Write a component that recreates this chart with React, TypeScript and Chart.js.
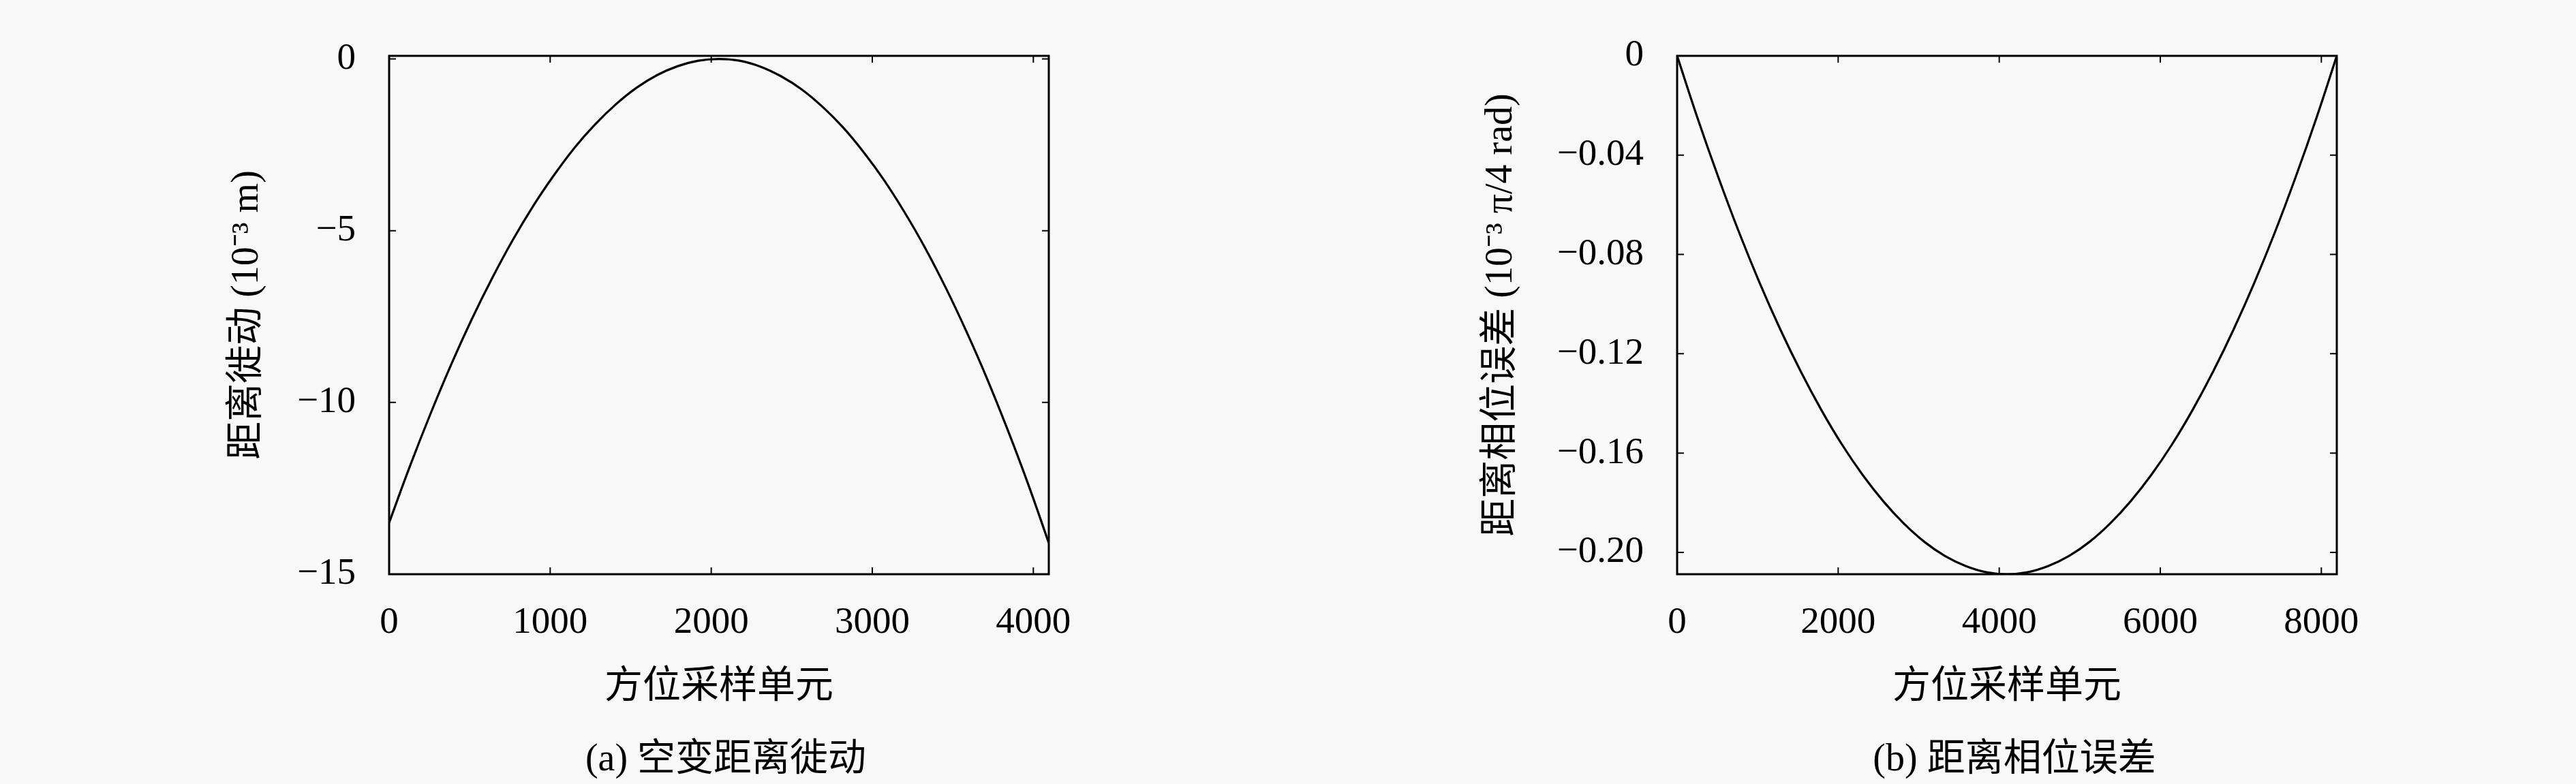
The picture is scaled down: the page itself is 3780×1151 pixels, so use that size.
import React, { useEffect, useRef } from "react";
import { Chart, registerables } from "chart.js";

Chart.register(...registerables);

// ---- Data ----
const xA = [
  0, 128, 256, 384, 512, 640, 768, 896, 1024, 1152, 1280, 1408, 1536, 1664, 1792, 1920, 2048,
  2176, 2304, 2432, 2560, 2688, 2816, 2944, 3072, 3200, 3328, 3456, 3584, 3712, 3840, 3968, 4096,
];
const yA = [
  -13.5, -11.87, -10.34, -8.91, -7.59, -6.38, -5.27, -4.27, -3.38, -2.58, -1.9, -1.32, -0.84, -0.47, -0.21, -0.05, 0.0,
  -0.05, -0.22, -0.5, -0.88, -1.38, -1.98, -2.7, -3.52, -4.46, -5.5, -6.66, -7.93, -9.3, -10.79, -12.38, -14.09,
];

const xB = [
  0, 256, 512, 768, 1024, 1280, 1536, 1792, 2048, 2304, 2560, 2816, 3072, 3328, 3584, 3840, 4096,
  4352, 4608, 4864, 5120, 5376, 5632, 5888, 6144, 6400, 6656, 6912, 7168, 7424, 7680, 7936, 8192,
];
const yB = [
  0, -0.0253, -0.0489, -0.071, -0.0914, -0.1101, -0.1272, -0.1427, -0.1566, -0.1688, -0.1794, -0.1884, -0.1958, -0.2015, -0.2055, -0.208, -0.2088,
  -0.208, -0.2055, -0.2015, -0.1958, -0.1884, -0.1794, -0.1688, -0.1566, -0.1427, -0.1272, -0.1101, -0.0914, -0.071, -0.0489, -0.0253, 0,
];

const xTicksA = [0, 1000, 2000, 3000, 4000];
const yTicksA = [-15, -10, -5, 0];
const xTicksB = [0, 2000, 4000, 6000, 8000];
const yTicksB = [-0.2, -0.16, -0.12, -0.08, -0.04, 0];

const xTitle = "方位采样单元";
const yTitleA = "距离徙动 (10⁻³ m)";
const yTitleB = "距离相位误差 (10⁻³ π/4 rad)";
const captionA = "(a) 空变距离徙动";
const captionB = "(b) 距离相位误差";

const FONT = '"Liberation Serif", "Noto Sans CJK SC", serif';
const W = 1890;
const H = 1151;
const PLOT_LEFT = 571;
const PLOT_RIGHT = 1539;
const PLOT_TOP = 37;
const PLOT_BOTTOM = 843;
const FS = 55;

const frameTicks = {
  id: "frameTicks",
  afterDatasetsDraw(chart: any) {
    const { ctx, chartArea } = chart;
    const { left, top, right, bottom } = chartArea;
    const xs = chart.scales.x;
    const ys = chart.scales.y;
    const L = 10;
    ctx.save();
    ctx.strokeStyle = "#000";
    ctx.lineWidth = 2;
    ctx.beginPath();
    xs.ticks.forEach((t: any) => {
      const p = xs.getPixelForValue(t.value);
      ctx.moveTo(p, bottom);
      ctx.lineTo(p, bottom - L);
      ctx.moveTo(p, top);
      ctx.lineTo(p, top + L);
    });
    ys.ticks.forEach((t: any) => {
      const p = ys.getPixelForValue(t.value);
      ctx.moveTo(left, p);
      ctx.lineTo(left + L, p);
      ctx.moveTo(right, p);
      ctx.lineTo(right - L, p);
    });
    ctx.stroke();
    ctx.lineWidth = 3;
    ctx.strokeRect(left, top, right - left, bottom - top);
    ctx.restore();
  },
};

type PanelProps = {
  xs: number[];
  ys: number[];
  xTicks: number[];
  yTicks: number[];
  xMax: number;
  yMin: number;
  yMax: number;
  yDigits: number;
  yTitle: string;
  yTitlePad: number;
  left: number;
  caption: string;
  captionCenter: number;
};

function fmtNeg(v: number, digits: number) {
  if (Math.abs(v) < 1e-9) return "0";
  const s = Math.abs(v).toFixed(digits);
  return v < 0 ? "\u2212" + s : s;
}

function Panel(p: PanelProps) {
  const ref = useRef<HTMLCanvasElement | null>(null);
  useEffect(() => {
    if (!ref.current) return;
    const chart = new Chart(ref.current, {
      type: "line",
      data: {
        datasets: [
          {
            data: p.xs.map((x, i) => ({ x, y: p.ys[i] })),
            borderColor: "#000",
            borderWidth: 3.2,
            pointRadius: 0,
            tension: 0.4,
            fill: false,
          },
        ],
      },
      options: {
        animation: false,
        responsive: false,
        devicePixelRatio: 1,
        layout: { padding: { top: PLOT_TOP, right: W - PLOT_RIGHT, bottom: 0, left: 0 } },
        plugins: { legend: { display: false }, tooltip: { enabled: false } },
        scales: {
          x: {
            type: "linear",
            min: 0,
            max: p.xMax,
            grid: { display: false, drawTicks: false },
            border: { display: false },
            afterBuildTicks: (s: any) => {
              s.ticks = p.xTicks.map((v) => ({ value: v }));
            },
            ticks: {
              padding: 39,
              color: "#000",
              font: { family: FONT, size: FS },
              maxRotation: 0,
              autoSkip: false,
              callback: (v: any) => String(v),
            },
            title: {
              display: true,
              text: xTitle,
              color: "#000",
              font: { family: FONT, size: 56 },
              padding: { top: 0, bottom: 108 },
            },
            afterFit: (s: any) => {
              s.height = H - PLOT_BOTTOM;
            },
          },
          y: {
            type: "linear",
            min: p.yMin,
            max: p.yMax,
            grid: { display: false, drawTicks: false },
            border: { display: false },
            afterBuildTicks: (s: any) => {
              s.ticks = p.yTicks.map((v) => ({ value: v }));
            },
            ticks: {
              padding: 49,
              color: "#000",
              font: { family: FONT, size: FS },
              autoSkip: false,
              callback: (v: any) => fmtNeg(Number(v), p.yDigits),
            },
            title: {
              display: true,
              text: p.yTitle,
              color: "#000",
              font: { family: FONT, size: 56 },
              padding: { top: p.yTitlePad, bottom: 0 },
            },
            afterFit: (s: any) => {
              s.width = PLOT_LEFT;
            },
          },
        },
      } as any,
      plugins: [frameTicks],
    });
    return () => chart.destroy();
  }, []);

  return (
    <div style={{ position: "absolute", left: p.left, top: 0, width: W, height: H }}>
      <canvas ref={ref} width={W} height={H} style={{ width: W, height: H, display: "block" }} />
      <div
        style={{
          position: "absolute",
          left: p.captionCenter - 500,
          width: 1000,
          top: 1078,
          height: 68,
          lineHeight: "68px",
          textAlign: "center",
          fontFamily: FONT,
          fontSize: 56,
          color: "#000",
          whiteSpace: "nowrap",
        }}
      >
        {p.caption}
      </div>
    </div>
  );
}

export default function App() {
  return (
    <div
      style={{
        position: "fixed",
        left: 0,
        top: 0,
        width: 3780,
        height: 1151,
        background: "#f8f8f8",
        overflow: "hidden",
      }}
    >
      <Panel
        xs={xA}
        ys={yA}
        xTicks={xTicksA}
        yTicks={yTicksA}
        xMax={4096}
        yMin={-15}
        yMax={0.09}
        yDigits={0}
        yTitle={yTitleA}
        yTitlePad={330}
        left={0}
        caption={captionA}
        captionCenter={1065}
      />
      <Panel
        xs={xB}
        ys={yB}
        xTicks={xTicksB}
        yTicks={yTicksB}
        xMax={8192}
        yMin={-0.2088}
        yMax={0}
        yDigits={2}
        yTitle={yTitleB}
        yTitlePad={280}
        left={1890}
        caption={captionB}
        captionCenter={1066}
      />
    </div>
  );
}
